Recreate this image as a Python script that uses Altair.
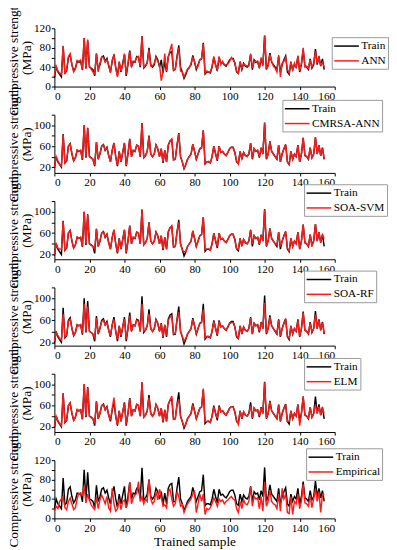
import altair as alt
import pandas as pd

samples = list(range(155))

train = [18, 40, 30, 25, 20, 83, 28, 32, 60, 65,
         45, 32, 38, 52, 50, 52, 34, 100, 38, 95,
         40, 38, 35, 22, 68, 35, 45, 60, 63, 52,
         58, 42, 30, 52, 66, 40, 22, 50, 30, 48,
         66, 22, 45, 74, 40, 52, 50, 62, 60, 40,
         104, 38, 42, 50, 80, 45, 40, 45, 62, 55,
         40, 55, 28, 52, 30, 62, 70, 72, 34, 35,
         62, 85, 40, 30, 17, 25, 35, 40, 45, 64,
         50, 35, 45, 55, 57, 90, 26, 30, 30, 28,
         40, 60, 45, 32, 60, 48, 50, 45, 42, 48,
         55, 58, 58, 48, 30, 27, 50, 35, 48, 42,
         40, 45, 66, 35, 55, 50, 52, 38, 57, 45,
         105, 35, 45, 69, 50, 45, 40, 35, 62, 30,
         45, 55, 63, 30, 25, 50, 35, 45, 40, 62,
         30, 45, 76, 42, 40, 35, 57, 38, 45, 77,
         45, 62, 42, 57, 35]

ann = [22, 42, 32, 28, 25, 84, 26, 35, 62, 68,
       45, 30, 36, 54, 52, 55, 35, 100, 36, 97,
       42, 36, 30, 26, 68, 30, 48, 62, 60, 50,
       55, 45, 28, 55, 64, 38, 20, 52, 32, 45,
       68, 25, 48, 72, 42, 50, 52, 60, 62, 42,
       104, 40, 44, 48, 76, 42, 42, 48, 60, 52,
       45, 12, 30, 68, 32, 60, 75, 88, 33, 36,
       60, 80, 32, 30, 20, 28, 36, 38, 48, 60,
       52, 38, 42, 55, 58, 88, 28, 32, 30, 30,
       42, 62, 44, 35, 62, 45, 52, 44, 45, 46,
       52, 60, 55, 50, 32, 28, 52, 38, 46, 44,
       42, 42, 68, 38, 52, 52, 50, 40, 60, 42,
       105, 38, 42, 66, 52, 42, 38, 30, 65, 20,
       48, 52, 60, 35, 28, 52, 32, 48, 38, 64,
       32, 48, 80, 40, 42, 38, 55, 40, 48, 72,
       48, 60, 45, 50, 40]

cmrsa = [20, 40, 32, 25, 22, 82, 28, 33, 60, 64,
         46, 32, 38, 53, 50, 52, 35, 100, 40, 94,
         40, 37, 35, 24, 68, 35, 46, 60, 62, 53,
         57, 42, 30, 52, 66, 40, 24, 50, 30, 48,
         66, 24, 45, 73, 40, 52, 50, 62, 60, 40,
         104, 38, 42, 50, 79, 45, 40, 45, 62, 55,
         40, 55, 30, 52, 30, 62, 70, 74, 34, 35,
         62, 84, 40, 30, 18, 25, 35, 40, 45, 64,
         50, 36, 45, 55, 57, 90, 27, 30, 31, 28,
         40, 60, 46, 34, 60, 48, 50, 45, 42, 48,
         55, 58, 57, 48, 32, 26, 50, 36, 48, 42,
         40, 45, 66, 36, 55, 50, 52, 40, 56, 45,
         104, 36, 45, 68, 50, 45, 40, 36, 62, 30,
         45, 55, 63, 30, 26, 50, 35, 45, 40, 62,
         30, 45, 76, 42, 40, 36, 57, 38, 45, 77,
         45, 62, 42, 57, 35]

svm = [20, 40, 32, 30, 30, 82, 28, 33, 60, 64,
       46, 32, 38, 53, 50, 52, 35, 100, 40, 94,
       40, 37, 35, 30, 68, 35, 46, 60, 62, 53,
       57, 42, 30, 52, 66, 40, 24, 50, 30, 48,
       66, 24, 45, 73, 40, 52, 50, 62, 60, 40,
       104, 38, 42, 50, 79, 45, 40, 45, 62, 55,
       40, 55, 30, 52, 30, 62, 70, 74, 34, 35,
       62, 80, 40, 28, 25, 25, 35, 40, 45, 64,
       50, 36, 45, 55, 57, 90, 30, 30, 31, 28,
       40, 60, 46, 35, 60, 48, 50, 45, 42, 48,
       55, 58, 57, 48, 30, 30, 50, 36, 48, 42,
       40, 45, 66, 40, 55, 50, 52, 40, 56, 45,
       104, 36, 45, 68, 50, 45, 40, 38, 62, 35,
       45, 55, 63, 32, 26, 50, 35, 45, 40, 62,
       30, 45, 76, 42, 40, 36, 57, 35, 45, 77,
       45, 62, 42, 57, 50]

rf = [22, 38, 32, 27, 24, 72, 30, 33, 58, 62,
      46, 33, 38, 52, 50, 52, 36, 90, 40, 85,
      40, 38, 35, 28, 64, 36, 46, 58, 60, 52,
      56, 42, 32, 52, 62, 40, 26, 50, 32, 48,
      62, 26, 45, 68, 40, 52, 50, 60, 58, 40,
      90, 40, 42, 50, 72, 45, 40, 45, 60, 54,
      40, 54, 30, 52, 32, 60, 66, 68, 35, 36,
      60, 75, 40, 31, 22, 27, 35, 40, 45, 62,
      50, 36, 45, 54, 56, 80, 28, 31, 31, 29,
      40, 58, 46, 34, 58, 48, 50, 45, 42, 48,
      54, 56, 56, 48, 32, 28, 50, 36, 48, 42,
      40, 45, 64, 36, 54, 50, 52, 40, 56, 45,
      92, 37, 45, 66, 50, 45, 40, 36, 60, 31,
      45, 54, 61, 31, 27, 50, 36, 45, 40, 60,
      31, 45, 74, 42, 40, 36, 56, 39, 45, 70,
      45, 60, 42, 56, 37]

elm = [20, 40, 32, 26, 22, 82, 28, 33, 60, 64,
       46, 32, 38, 53, 50, 52, 35, 100, 40, 94,
       40, 37, 35, 26, 68, 35, 46, 60, 62, 52,
       57, 42, 32, 54, 75, 40, 24, 50, 30, 48,
       64, 24, 45, 73, 40, 52, 50, 62, 60, 40,
       104, 38, 42, 50, 75, 45, 40, 45, 62, 55,
       40, 55, 30, 52, 30, 62, 70, 78, 34, 35,
       62, 72, 40, 30, 20, 25, 35, 40, 45, 60,
       50, 36, 45, 55, 57, 92, 30, 30, 31, 28,
       40, 58, 46, 36, 58, 48, 50, 45, 42, 48,
       55, 58, 57, 48, 32, 24, 50, 36, 48, 42,
       40, 45, 60, 36, 55, 50, 52, 40, 56, 45,
       104, 36, 45, 68, 50, 45, 40, 36, 62, 30,
       45, 55, 60, 30, 30, 50, 35, 45, 40, 62,
       22, 45, 78, 42, 40, 36, 57, 38, 45, 62,
       45, 58, 42, 55, 45]

emp = [15, 25, 20, 35, 40, 45, 22, 18, 35, 42,
       30, 18, 22, 40, 52, 50, 48, 68, 32, 50,
       38, 28, 22, 18, 45, 20, 38, 48, 40, 30,
       45, 22, 15, 62, 30, 15, 20, 40, 18, 35,
       38, 22, 35, 75, 30, 42, 48, 52, 76, 35,
       45, 30, 40, 35, 80, 40, 30, 35, 55, 38,
       60, 45, 25, 28, 22, 55, 60, 40, 25, 30,
       55, 45, 25, 28, 12, 22, 30, 35, 40, 50,
       55, 12, 30, 50, 35, 50, 8, 20, 18, 22,
       30, 42, 35, 25, 40, 35, 38, 30, 35, 38,
       42, 45, 40, 38, 20, 12, 35, 20, 38, 30,
       28, 35, 65, 25, 45, 40, 42, 20, 45, 15,
       75, 25, 35, 58, 35, 30, 28, 20, 50, 15,
       62, 40, 50, 12, 10, 45, 8, 35, 30, 50,
       20, 35, 70, 32, 30, 25, 48, 22, 40, 60,
       35, 55, 12, 50, 48]

# (name, values, y-axis minimum, legend x, legend y)
panels = [
    ("ANN", ann, 0, 281, 9),
    ("CMRSA-ANN", cmrsa, 9, 231, -15),
    ("SOA-SVM", svm, 11, 253, -17),
    ("SOA-RF", rf, 14, 253, -17),
    ("ELM", elm, 10, 253, -16),
    ("Empirical", emp, 0, 255, -12),
]

FONT = "Liberation Serif"

charts = []
for i, (name, vals, ymin, lx, ly) in enumerate(panels):
    df = pd.DataFrame({
        "x": samples + samples,
        "y": train + vals,
        "series": ["Train"] * len(samples) + [name] * len(samples),
    })
    yvals = list(range(0, 121, 20)) if ymin == 0 else list(range(20, 121, 20))
    last = i == len(panels) - 1
    xaxis = alt.Axis(values=list(range(0, 161, 20)),
                     title="Trained sample" if last else None,
                     labelPadding=1, titlePadding=1, titleFontSize=13.5)
    base = alt.Chart(df).encode(
        x=alt.X("x:Q", scale=alt.Scale(domain=[0, 160], nice=False, zero=False), axis=xaxis),
        y=alt.Y("y:Q", scale=alt.Scale(domain=[ymin, 120], nice=False, zero=False),
                axis=alt.Axis(values=yvals, title=["Compressive strength", "(MPa)"])),
        color=alt.Color("series:N",
                        scale=alt.Scale(domain=["Train", name], range=["#000000", "#ff1a1a"]),
                        legend=alt.Legend(orient="none", legendX=lx, legendY=ly, title=None)),
        order=alt.Order("x:Q"),
    )
    black = base.transform_filter(alt.datum.series == "Train").mark_line(strokeWidth=1.45)
    red = base.transform_filter(alt.datum.series == name).mark_line(strokeWidth=1.45)
    charts.append(alt.layer(black, red).properties(width=284, height=59))

chart = alt.vconcat(*charts, spacing=28.5, bounds="flush").resolve_scale(
    color="independent", y="independent", x="independent"
).resolve_legend(color="independent").properties(
    padding={"left": -2, "top": -13, "right": 0, "bottom": 0}
).configure_view(stroke=None).configure_axis(
    domainColor="black", tickColor="black", labelColor="black", titleColor="black",
    labelFont=FONT, labelFontSize=11.4, titleFont=FONT, titleFontSize=13.5,
    titleFontWeight="normal", grid=False, tickSize=3.1, labelPadding=1,
    titlePadding=0, titleLineHeight=13.5, titleLimit=300,
).configure_legend(
    strokeColor="#999999", fillColor="white", padding=2,
    symbolType="M-2,0H2", symbolSize=156, symbolStrokeWidth=1.5,
    symbolOffset=6, labelOffset=8, labelFont=FONT, labelFontSize=11.4,
    labelColor="black", rowPadding=2,
)

chart.save("out.html", embed_options={"renderer": "svg", "actions": False})
